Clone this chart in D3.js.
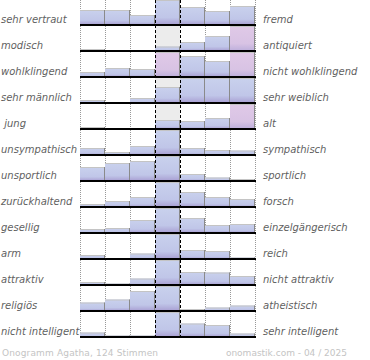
<!DOCTYPE html>
<html><head><meta charset="utf-8">
<script src="https://cdn.jsdelivr.net/npm/d3@7"></script>
<style>html,body{margin:0;padding:0;background:#fff;}svg{display:block;}</style>
</head><body>
<script>
const leftLabels = ["sehr vertraut","modisch","wohlklingend","sehr männlich"," jung","unsympathisch","unsportlich","zurückhaltend","gesellig","arm","attraktiv","religiös","nicht intelligent"];
const rightLabels = ["fremd","antiquiert","nicht wohlklingend","sehr weiblich","alt","sympathisch","sportlich","forsch","einzelgängerisch","reich","nicht attraktiv","atheistisch","sehr intelligent"];
const steps = [0,1,2,3,4,5,6];
const votes = [
  [15,15,10,25,18,14,19],
  [2,0,0,4.5,9,15,28],
  [5,9,8,28,21,16,28],
  [3,0,5,16,25,25,25],
  [2,0,0,9,8,11,28],
  [7,3,9,25,7,5,4.5],
  [14,18,20,25,7,3.5,2],
  [3,6,10,25,15,10,8],
  [4,5,13,25,15,8,9],
  [4,0,5.5,25,9,8,1.5],
  [3,1.5,6.5,25,13,12.5,9],
  [8.5,11.5,20,25,2,3.5,5.5],
  [4.5,1.5,1.5,25,13.5,12,3.5]
];
const footerLeft = "Onogramm Agatha, 124 Stimmen";
const footerRight = "onomastik.com - 04 / 2025";
const maxVal = 25;

const W = 370, H = 360;
const svg = d3.select("body").append("svg").attr("width", W).attr("height", H);
const defs = svg.append("defs");
function grad(id, c0, c1, c2) {
  const g = defs.append("linearGradient").attr("id", id).attr("x1",0).attr("y1",0).attr("x2",0).attr("y2",1);
  g.append("stop").attr("offset","0").attr("stop-color",c0);
  g.append("stop").attr("offset","0.7").attr("stop-color",c1);
  g.append("stop").attr("offset","1").attr("stop-color",c2);
}
grad("gBlue", "#c9d1ed", "#c0c6e8", "#a89ed2");
grad("gPink", "#e0c9e7", "#d8c3e4", "#bcaedb");

const x = d3.scaleBand().domain(steps).range([80, 255]).padding(0);
const rowY = d3.scaleLinear().domain([0, leftLabels.length]).range([25, 25 + 26 * leftLabels.length]);
const yBot = rowY(leftLabels.length - 1) + 1;

// center column gray backgrounds
leftLabels.forEach((_, i) => {
  const b = rowY(i);
  svg.append("rect").attr("x", x(3)).attr("y", b - 25).attr("width", x.bandwidth()).attr("height", 25).attr("fill", "#ececec");
});

// dotted grid
[x(0), x(1), x(2), x(5), x(6), x(6) + x.bandwidth()].forEach(px => {
  svg.append("line").attr("x1", px+0.5).attr("x2", px+0.5).attr("y1", 0).attr("y2", yBot)
    .attr("stroke", "#999").attr("stroke-width", 1).attr("stroke-dasharray", "1,1");
});

// bars
votes.forEach((row, i) => {
  const b = rowY(i);
  const y = d3.scaleLinear().domain([0, maxVal]).range([b, b - 25]).clamp(true);
  const bars = row.map((v, j) => ({ s: steps[j], v })).filter(d => d.v > 0);
  const g = svg.append("g");
  g.selectAll("rect").data(bars).join("rect")
    .attr("x", d => x(d.s))
    .attr("y", d => y(d.v))
    .attr("width", x.bandwidth())
    .attr("height", d => b - y(d.v))
    .attr("fill", d => d.v > maxVal ? "url(#gPink)" : "url(#gBlue)");
  g.selectAll("path").data(bars).join("path")
    .attr("d", d => `M${x(d.s)},${y(d.v) + 0.5}H${x(d.s) + x.bandwidth()}`)
    .attr("stroke", "#c4c4c4").attr("stroke-width", 1).attr("fill", "none");
  g.selectAll("line").data(bars).join("line")
    .attr("x1", d => x(d.s) + x.bandwidth() - 0.5).attr("x2", d => x(d.s) + x.bandwidth() - 0.5)
    .attr("y1", d => y(d.v)).attr("y2", b)
    .attr("stroke", "#8a8a8a").attr("stroke-width", 1);
  svg.append("line").attr("x1", 80).attr("x2", 256).attr("y1", b).attr("y2", b)
    .attr("stroke", "#000").attr("stroke-width", 2);
});

// dashed center lines
[x(3), x(4)].forEach(px => {
  svg.append("line").attr("x1", px+0.5).attr("x2", px+0.5).attr("y1", 0).attr("y2", yBot)
    .attr("stroke", "#000").attr("stroke-width", 1).attr("stroke-dasharray", "3,2");
});

// labels
const lab = svg.append("g").attr("font-family", "DejaVu Sans, Verdana, sans-serif").attr("font-size", 10)
  .attr("font-style", "italic").attr("fill", "#5f5f5f");
leftLabels.forEach((t, i) => {
  lab.append("text").attr("x", 1).attr("y", rowY(i) - 2).style("white-space", "pre").text(t);
});
rightLabels.forEach((t, i) => {
  lab.append("text").attr("x", 263).attr("y", rowY(i) - 2).text(t);
});

// footer
const ft = svg.append("g").attr("font-family", "DejaVu Sans, Verdana, sans-serif").attr("font-size", 9).attr("fill", "#c4c4c4");
ft.append("text").attr("x", 2).attr("y", 356).attr("letter-spacing", 0.15).text(footerLeft);
ft.append("text").attr("x", 347).attr("y", 356).attr("text-anchor", "end").text(footerRight);
</script>
</body></html>
